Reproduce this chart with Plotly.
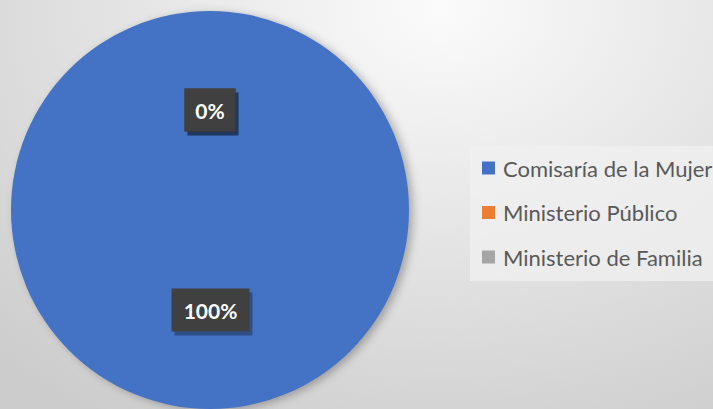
import base64
import math
import plotly.graph_objects as go

# Data
categories = ["Comisaría de la Mujer", "Ministerio Público", "Ministerio de Familia"]
values = [100, 0, 0]
colors = ["#4472C4", "#ED7D31", "#A5A5A5"]

W, H = 713, 409

# Pie placement (pixels)
pie_cx, pie_cy, pie_r = 210, 210, 199
dom_x = [(pie_cx - pie_r) / W, (pie_cx + pie_r) / W]
dom_y = [(H - (pie_cy + pie_r)) / H, (H - (pie_cy - pie_r)) / H]

# Background: soft radial gradient with a drop shadow under the pie
svg = f"""<svg xmlns='http://www.w3.org/2000/svg' width='{W}' height='{H}' viewBox='0 0 {W} {H}' preserveAspectRatio='none'>
<defs>
<radialGradient id='g' gradientUnits='userSpaceOnUse' cx='440' cy='10' r='1'
 gradientTransform='translate(440 10) scale(650 480) translate(-440 -10)'>
<stop offset='0' stop-color='#fbfbfb'/>
<stop offset='1' stop-color='#cccccc'/>
</radialGradient>
<filter id='b' x='-20%' y='-20%' width='140%' height='140%'><feGaussianBlur stdDeviation='4'/></filter>
</defs>
<rect width='{W}' height='{H}' fill='url(#g)'/>
<circle cx='{pie_cx + 4}' cy='{pie_cy + 2}' r='{pie_r}' fill='#000' fill-opacity='0.28' filter='url(#b)'/>
</svg>"""
bg_uri = "data:image/svg+xml;base64," + base64.b64encode(svg.encode("utf-8")).decode()

fig = go.Figure(
    go.Pie(
        labels=categories,
        values=values,
        marker=dict(colors=colors, line=dict(width=0)),
        sort=False,
        direction="clockwise",
        rotation=0,
        textinfo="none",
        hoverinfo="skip",
        domain=dict(x=dom_x, y=dom_y),
        showlegend=False,
    )
)

# Data labels: percentage of each slice at half radius along its mid angle
total = sum(values)
annotations = []
cum = 0.0
for v in values:
    pct = v / total * 100
    frac_mid = (cum + v / 2) / total
    cum += v
    mid = (frac_mid % 1.0) * 2 * math.pi
    lx = pie_cx + 0.5 * pie_r * math.sin(mid)
    ly = pie_cy - 0.5 * pie_r * math.cos(mid)
    txt = f"{pct:.0f}%"
    box_w = 13.5 * (len(txt) - 1) + 18.5
    common = dict(
        x=lx / W, y=1 - ly / H, xref="paper", yref="paper",
        xanchor="center", yanchor="middle", valign="middle",
        showarrow=False, borderpad=9, width=box_w, height=24,
    )
    # soft shadow box behind the label
    annotations.append(dict(common, text=" ", xshift=3, yshift=-4,
                            bgcolor="rgba(0,0,0,0.30)",
                            font=dict(family="Lato", size=21, color="rgba(0,0,0,0)")))
    annotations.append(dict(common, text=f"<b>{txt}</b>", bgcolor="#404040",
                            font=dict(family="Lato", size=21, color="#ffffff")))

# Legend drawn as a panel with colour keys
leg_x0, leg_x1, leg_y0, leg_y1 = 470, 713, 146, 281
row_y = [168, 212.5, 257]
key_x0, key_size, text_x = 482, 13, 501
shapes = [dict(type="rect", xref="paper", yref="paper",
               x0=leg_x0 / W, x1=leg_x1 / W, y0=1 - leg_y1 / H, y1=1 - leg_y0 / H,
               fillcolor="rgba(240,240,240,0.75)", line=dict(width=0), layer="below")]
for name, col, ry in zip(categories, colors, row_y):
    shapes.append(dict(type="rect", xref="paper", yref="paper",
                       x0=key_x0 / W, x1=(key_x0 + key_size) / W,
                       y0=1 - (ry + key_size / 2) / H, y1=1 - (ry - key_size / 2) / H,
                       fillcolor=col, line=dict(width=0)))
    annotations.append(dict(x=text_x / W, y=1 - ry / H, xref="paper", yref="paper",
                            xanchor="left", yanchor="middle", showarrow=False,
                            text=name, font=dict(family="Lato", size=22, color="#595959")))

fig.update_layout(
    width=W, height=H,
    margin=dict(l=0, r=0, t=0, b=0),
    paper_bgcolor="#e0e0e0",
    plot_bgcolor="rgba(0,0,0,0)",
    images=[dict(source=bg_uri, xref="paper", yref="paper", x=0, y=1,
                 sizex=1, sizey=1, xanchor="left", yanchor="top",
                 sizing="stretch", layer="below")],
    shapes=shapes,
    annotations=annotations,
)

fig.write_html("out.html")
